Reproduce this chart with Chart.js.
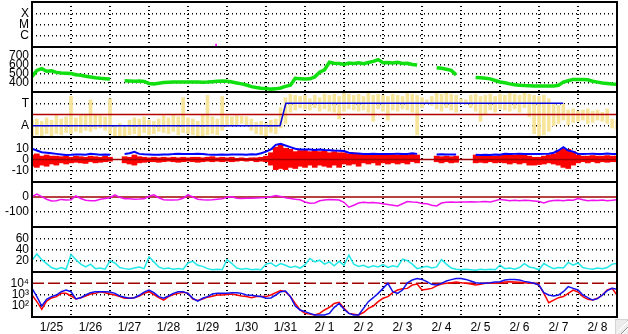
<!DOCTYPE html>
<html>
<head>
<meta charset="utf-8">
<title>trend</title>
<script src="https://cdn.jsdelivr.net/npm/chart.js@4.4.1/dist/chart.umd.min.js"></script>
<style>
  html, body { margin: 0; padding: 0; background: #fff; }
  #wrap { position: relative; width: 628px; height: 334px; }
  canvas { display: block; }
  .grip {
    position: absolute; right: 0; bottom: 0; width: 12px; height: 14px;
    background: #ececec; border-left: 1px solid #d4d4d4; border-top: 1px solid #d4d4d4;
  }
  .grip::after {
    content: ''; position: absolute; inset: 0;
    background: repeating-linear-gradient(135deg, transparent 0 3px, #8c8c8c 3px 4px, #fff 4px 5px);
    clip-path: polygon(100% 0, 100% 100%, 0 100%);
  }
</style>
</head>
<body>
<div id="wrap">
  <canvas id="trend" width="628" height="334"></canvas>
  <div class="grip"></div>
</div>
<script>
/* 15 days from 1/25 00:00, one sample every 3 h (x in days) */
const STEP = 1 / 8;
const dayLabels = ['1/25', '1/26', '1/27', '1/28', '1/29', '1/30', '1/31',
  '2/ 1', '2/ 2', '2/ 3', '2/ 4', '2/ 5', '2/ 6', '2/ 7', '2/ 8'];

const catLabels  = { 1: 'C', 2: 'M', 3: 'X' };
const modeLabels = { 1: 'A', 3: 'T' };
const logLabels  = { 100: '10\u00b2', 1000: '10\u00b3', 10000: '10\u2074' };

// panel 1 : single event mark
const eventTimes   = [4.72];
const eventHeights = [0.25];

// panel 2 : green
const flowValues = [
  470, 540, 560, 530, 535, 518, 512, 508, 505, 492,
  485, 475, 466, 458, 452, 448, 445, null, null, 425,
  423, 420, 421, 418, 395, 390, 397, 405, 408, 410,
  412, 411, 410, 412, 410, 408, 410, 415, 420, 422,
  419, 410, 400, 390, 378, 360, 350, 342, 338, 332,
  335, 345, 362, 375, 452, 448, 445, 447, 468, 520,
  545, 630, 620, 618, 605, 622, 618, 625, 615, 628,
  640, 660, 625, 628, 622, 630, 618, 620, 605, 600,
  null, null, null, 570, 563, 552, 540, 490, null, null,
  null, 462, 458, 452, 446, 428, 412, 403, 390, 380,
  374, 371, 370, 368, 368, 367, 366, 368, 375, 410,
  425, 440, 440, 438, 436, 420, 410, 400, 394, 388,
  386
];

// panel 3 : mode step (A = 1, T = 3), limit and yellow activity band
const modeTimes  = [0, 6.36, 6.51, 13.62];
const modeValues = [1, 1, 3, 3];
const modeLimit  = 2;
const activityLow = [
  0.1, 0.2, 0.1, 0.3, 0.0, 0.3, 0.2, 0.4, 0.3, 0.5,
  0.4, 0.6, 0.5, 0.7, 0.8, 0.6, 0.3, 0.0, 0.1, 0.0,
  0.2, 0.3, 0.1, 0.4, 0.2, 0.3, 0.5, 0.4, 0.3, 0.5,
  0.2, 0.4, 0.3, 0.2, 0.0, 0.1, 0.2, 0.3, 0.2, 0.6,
  0.9, 1.0, 1.1, 1.2, 1.0, 0.6, 0.3, 0.2, 0.1, 0.4,
  0.3, 0.8, 1.2, 2.2, 2.4, 2.6, 2.5, 2.4, 2.6, 2.3,
  2.5, 2.3, 2.2, 1.6, 2.3, 2.5, 2.4, 2.3, 2.4, 2.2,
  1.4, 2.5, 2.3, 1.5, 2.4, 2.3, 2.5, 2.4, 2.2, 0.2,
  2.6, 3.0, 2.8, 2.5, 2.3, 2.6, 2.4, 2.2, 3.0, 2.9,
  2.6, 2.3, 1.4, 2.0, 2.4, 2.2, 2.5, 2.4, 2.3, 2.5,
  2.2, 2.6, 1.8, 0.3, 0.1, 0.2, 0.5, 1.0, 1.2, 1.5,
  1.1, 1.3, 1.4, 1.5, 1.2, 1.3, 1.5, 1.4, 1.2, 0.8,
  0.7
];
const activityHigh = [
  1.5, 1.6, 1.4, 1.7, 1.5, 2.0, 1.6, 1.8, 3.6, 1.7,
  1.9, 2.0, 3.3, 2.0, 1.9, 1.8, 3.4, 1.0, 1.2, 0.9,
  1.5, 1.7, 1.6, 1.8, 1.5, 1.4, 1.6, 1.9, 1.7, 2.0,
  1.8, 3.5, 1.7, 1.6, 1.4, 2.0, 3.7, 1.8, 1.6, 3.6,
  1.9, 1.8, 1.9, 1.85, 1.8, 1.6, 1.3, 1.4, 1.2, 1.5,
  1.6, 2.6, 3.5, 3.8, 3.7, 3.6, 3.7, 3.4, 3.7, 3.5,
  3.8, 3.7, 3.8, 3.6, 3.9, 3.8, 3.7, 3.8, 3.6, 3.9,
  3.7, 3.8, 3.7, 3.6, 3.8, 3.7, 3.6, 3.9, 3.8, 3.7,
  3.5, 3.3, 3.6, 3.9, 3.8, 3.9, 3.8, 3.7, 3.4, 3.3,
  3.7, 3.8, 3.6, 3.7, 3.8, 3.6, 3.8, 3.7, 3.9, 3.8,
  3.7, 3.9, 3.8, 3.7, 3.6, 3.7, 3.4, 3.0, 2.8, 2.9,
  2.4, 2.5, 2.3, 2.4, 2.5, 2.3, 2.4, 2.2, 2.5, 1.6,
  1.5
];

// panel 4 : blue upper trace and red spread
const diffUpper = [
  9.5, 8, 6.5, 6, 5.5, 5, 4.5, 4, 4.2, 4.5,
  4.5, 4.3, 5, 4.6, 4.2, 4.5, 4.3, null, null, 4.8,
  5.5, 6.8, 5, 4.6, 4.5, 4.3, 4.2, 4.4, 4.5, 4.8,
  5.2, 5, 5, 4.8, 5.1, 4.8, 4.5, 4.3, 4.2, 4.5,
  4.3, 4.5, 4.4, 4.5, 4.3, 4.6, 4.5, 5.5, 7, 9,
  13, 14, 12.5, 11, 9.5, 9, 9, 8.8, 8.5, 8.8,
  8.5, 8.3, 8, 7.8, 7.5, 6, 5.5, 5.3, 5, 5,
  5.2, 5, 5, 4.8, 5, 5.2, 5, 5, 5.5, 5,
  null, null, null, 4.5, 4.6, 4.5, 4.4, 4.5, null, null,
  null, 4.2, 4, 4.2, 4, 4.5, 4.3, 5, 4.8, 5,
  5.2, 4.9, 5, 5, 4.8, 5, 5.2, 6, 8, 11,
  8, 7, 5, 4.8, 5, 5.2, 5, 5, 5.3, 5,
  5
];
const diffLow = [
  -6, -7, -5, -6, -4, -5, -3, -4, -3, -2.5,
  -3, -3.5, -2, -3, -2.5, -2, -1.5, null, null, -3,
  -4, -5, -3, -2.5, -2, -2, -2.5, -2, -1.5, -2,
  -2.5, -2, -1.5, -2, -2.5, -2, -1.5, -2, -1.5, -2,
  -1.5, -2, -1.5, -1, -1.5, -1, -2, -1.5, -2, -5,
  -9, -8, -9, -7, -8, -6, -7, -5, -7, -5,
  -6, -7, -5, -7, -4, -5, -4, -6, -3, -4,
  -3, -5, -3, -4, -3, -4, -3, -4, -2, -3,
  null, null, null, -2, -3, -2, -3, -2.5, null, null,
  null, -3, -2.5, -3, -2, -3, -2.5, -3, -4, -3,
  -4, -3, -5, -5, -4.5, -4, -3, -4, -5, -7,
  -8, -5, -3, -2, -3, -2, -3, -2, -2.5, -2,
  -2
];
const diffHigh = [
  4, 5, 3, 4, 3, 3, 2.5, 3, 2, 3,
  2.5, 2, 3, 2.5, 2, 3, 2, null, null, 2.5,
  2, 4, 2.5, 2, 1.5, 2, 1.5, 2, 1.5, 2,
  1.5, 2, 1.5, 2, 2, 1.5, 2, 2.5, 1.5, 2,
  1.5, 2, 1, 1.5, 1, 1.5, 1.5, 2, 3, 6,
  11, 13, 10, 9, 7, 8, 8, 7, 8, 7,
  8, 6, 7, 6, 6, 5, 6, 5, 4, 5,
  4, 5, 4, 5, 4.5, 4, 5, 4, 5, 4,
  null, null, null, 3, 2.5, 3, 2.5, 3, null, null,
  null, 4, 3, 3.5, 3, 3, 3.5, 4, 4.5, 4,
  5, 4, 3, 2, 2, 3, 4, 5, 8, 10,
  9, 7, 4, 3, 3, 3.5, 3, 3, 3.5, 3,
  3
];
const diffZero = 0;

// panel 5 : magenta
const offsetValues = [
  2, 20, 2, -15, -27, -25, -16, -20, -18, 8,
  -10, -22, -25, -25, -15, -10, -5, 14, -2, -12,
  -12, -15, -14, -12, 5, 15, -5, -18, -20, -20,
  -18, -8, 14, 0, -15, -18, -20, -18, -15, -12,
  -2, 2, -8, -10, -8, -8, -6, -5, -3, 2,
  10, 4, -5, -10, -15, -18, -33, -42, -40, -25,
  -20, -16, -18, -20, -35, -68, -55, -40, -35, -38,
  -36, -40, -45, -50, -55, -60, -45, -30, -33, -35,
  -44, -45, -55, -60, -40, -35, -33, -35, -33, -33,
  -32, -33, -32, -30, -33, -25, -16, -20, -25, -22,
  -25, -22, -24, -27, -30, -40, -28, -24, -22, -25,
  -20, -22, -10, -18, -25, -22, -24, -20, -25, -22,
  -18
];
const offsetZero = 0;

// panel 6 : cyan
const rateValues = [
  21, 32, 22, 15, 8, 5, 8, 5, 31, 22,
  14, 9, 14, 6, 7, 5, 20, 16, 8, 6,
  5, 7, 9, 6, 27, 18, 9, 6, 7, 5,
  6, 5, 16, 19, 12, 10, 6, 4, 5, 4,
  22, 15, 7, 5, 6, 4, 5, 4, 14, 16,
  10, 15, 12, 8, 10, 7, 13, 24, 18, 21,
  14, 18, 11, 19, 12, 30, 14, 10, 12, 8,
  11, 9, 13, 8, 11, 9, 23, 20, 14, 6,
  8, 10, 7, 9, 22, 14, 7, 5, 4, 5,
  4, 3, 5, 4, 5, 4, 12, 6, 7, 5,
  8, 15, 9, 7, 4, 15, 10, 6, 8, 7,
  17, 12, 16, 8, 6, 5, 7, 6, 8, 14,
  15
];

// panel 7 : log counts
const countRed = [
  900, 230, 48, 260, 490, 650, 1260, 1260, 740, 400,
  520, 740, 1100, 1260, 1780, 1450, 1100, 900, 650, 460,
  460, 520, 740, 1260, 1780, 1000, 520, 320, 650, 1000,
  1260, 1550, 1260, 400, 290, 400, 580, 700, 900, 900,
  1000, 1100, 900, 740, 650, 520, 650, 650, 650, 900,
  1450, 2200, 1780, 650, 160, 42, 21, 18, 15, 21,
  42, 72, 160, 200, 59, 21, 18, 15, 25, 59,
  95, 230, 460, 650, 1450, 2500, 3300, 3500, 6900, 8500,
  2500, 2900, 3500, 5800, 8500, 9800, 11000, 13000, 11000, 9800,
  8500, 6900, 8000, 9800, 9800, 9800, 11000, 13000, 13800, 13000,
  12000, 11000, 9800, 9800, 6900, 1260, 185, 320, 520, 650,
  1260, 2500, 1650, 650, 370, 320, 460, 900, 2500, 3500,
  900
];
const countBlue = [
  3500, 650, 95, 370, 650, 900, 1780, 2500, 1780, 400,
  520, 900, 1450, 1780, 1780, 1780, 1650, 1260, 740, 580,
  460, 520, 850, 1650, 2500, 1450, 650, 460, 740, 1260,
  1780, 1780, 1260, 460, 260, 460, 650, 1100, 1260, 1260,
  1300, 1450, 1450, 1260, 900, 850, 740, 650, 460, 490,
  900, 1780, 2000, 650, 95, 42, 30, 21, 15, 15,
  15, 21, 72, 160, 48, 21, 15, 15, 59, 230,
  520, 1260, 3500, 9800, 1780, 1260, 2500, 11000, 19500, 26000,
  22000, 13800, 8000, 6900, 9800, 16000, 21000, 26000, 27000, 22000,
  16000, 11000, 9800, 9800, 11000, 13000, 13800, 19500, 22000, 22000,
  19500, 14700, 12000, 9800, 6900, 1450, 900, 740, 900, 1780,
  5000, 3500, 2500, 900, 520, 320, 430, 900, 2200, 3500,
  2900
];
const countLimit = 10000;

/* ---------- helpers ---------- */
const FONT = { family: "'Liberation Sans', Arial, sans-serif", size: 12 };
const END = dayLabels.length;
const PANELS = ['yCat', 'yGreen', 'yMode', 'yDiff', 'yOffset', 'yCyan', 'yLog'];
const DOTS = [1, 3];

const series = values => values.map((v, i) => ({ x: i * STEP, y: v }));
const ranges = (lo, hi) => lo
  .map((v, i) => ({ x: i * STEP, y: v === null ? null : [v, hi[i]] }))
  .filter(p => p.y !== null);
const level = v => [{ x: 0, y: v }, { x: END, y: v }];

const line = (axis, data, color, width, order, extra) => Object.assign({
  type: 'line', yAxisID: axis, data, borderColor: color, borderWidth: width,
  pointRadius: 0, tension: 0, spanGaps: false, order
}, extra);

const bars = (axis, data, color, thickness, order) => ({
  type: 'bar', yAxisID: axis, data, backgroundColor: color, borderWidth: 0,
  barThickness: thickness, grouped: false, order
});

function panel(extra, tickValues, labels, hideAt) {
  return Object.assign({
    position: 'left', stack: 'panels', stackWeight: 1, offset: false,
    border: { display: false, dash: DOTS },
    grid: {
      drawTicks: false, lineWidth: 1.5,
      color: c => (c.tick && c.tick.value === hideAt) ? 'rgba(0,0,0,0)' : '#000'
    },
    ticks: {
      padding: 3, color: '#000', font: FONT, autoSkip: false,
      callback: v => labels ? labels[v] : v
    },
    afterBuildTicks: s => { s.ticks = tickValues.map(v => ({ value: v })); },
    afterFit: s => { s.width = 32; s.paddingTop = 0; s.paddingBottom = 0; }
  }, extra);
}

// black frame and panel separators
const framePlugin = {
  id: 'frame',
  afterDatasetsDraw(chart) {
    const { ctx, chartArea: a } = chart;
    ctx.save();
    ctx.strokeStyle = '#000';
    ctx.lineWidth = 2;
    ctx.beginPath();
    PANELS.forEach(id => {
      const top = Math.round(chart.scales[id].top);
      ctx.moveTo(a.left, top);
      ctx.lineTo(a.right, top);
    });
    ctx.moveTo(a.left, a.bottom);  ctx.lineTo(a.right, a.bottom);
    ctx.moveTo(a.left, a.top - 1); ctx.lineTo(a.left, a.bottom + 1);
    ctx.moveTo(a.right, a.top - 1); ctx.lineTo(a.right, a.bottom + 1);
    ctx.stroke();
    ctx.restore();
  }
};

/* ---------- chart ---------- */
new Chart(document.getElementById('trend'), {
  type: 'line',
  data: {
    datasets: [
      bars('yCat', eventTimes.map((t, i) => ({ x: t, y: [0, eventHeights[i]] })), '#ff00ff', 1, 1),

      line('yGreen', series(flowValues), '#10e010', 3.5, 1),

      line('yMode', modeTimes.map((t, i) => ({ x: t, y: modeValues[i] })), '#0000e0', 1.5, 1),
      line('yMode', level(modeLimit), '#b40000', 1.5, 2),
      bars('yMode', ranges(activityLow, activityHigh), '#f8e59c', 3, 9),

      line('yDiff', series(diffUpper), '#0000ff', 2, 1),
      line('yDiff', level(diffZero), '#a00000', 1.5, 4),
      bars('yDiff', ranges(diffLow, diffHigh), '#ff0000', 5, 5),

      line('yOffset', series(offsetValues), '#f010f0', 1.5, 1),
      line('yOffset', level(offsetZero), '#a00000', 1.5, 8),

      line('yCyan', series(rateValues), '#20e8e8', 1.5, 1),

      line('yLog', series(countBlue), '#1010f0', 1.5, 1),
      line('yLog', series(countRed), '#ff0000', 1.5, 2),
      line('yLog', level(countLimit), '#a00000', 1.5, 8, { borderDash: [12, 4] })
    ]
  },
  options: {
    responsive: false,
    animation: false,
    layout: { padding: { top: 2, right: 11, left: 0, bottom: 0 } },
    plugins: { legend: { display: false }, tooltip: { enabled: false } },
    scales: {
      x: {
        type: 'linear', min: 0, max: END, offset: false,
        border: { display: false, dash: DOTS },
        grid: { drawTicks: false, lineWidth: 2, color: '#000', offset: false },
        ticks: {
          padding: 3, color: '#000', font: FONT, autoSkip: false, maxRotation: 0,
          labelOffset: 19.5, callback: v => dayLabels[v] ?? ''
        },
        afterBuildTicks: s => { s.ticks = dayLabels.map((_, d) => ({ value: d })); },
        afterFit: s => { s.height = 17; s.paddingLeft = 0; s.paddingRight = 0; }
      },
      // stacked panels, listed bottom first
      yLog:    panel({ type: 'logarithmic', min: 10, max: 100000 }, [100, 1000, 10000], logLabels, 10000),
      yCyan:   panel({ type: 'linear', min: 0, max: 80 }, [20, 40, 60]),
      yOffset: panel({ type: 'linear', min: -200, max: 100 }, [-100, 0], null, 0),
      yDiff:   panel({ type: 'linear', min: -20, max: 20 }, [-10, 0, 10], null, 0),
      yMode:   panel({ type: 'linear', min: 0, max: 4 }, [1, 3], modeLabels),
      yGreen:  panel({ type: 'linear', min: 300, max: 800 }, [400, 500, 600, 700]),
      yCat:    panel({ type: 'linear', min: 0, max: 4 }, [1, 2, 3], catLabels)
    }
  },
  plugins: [framePlugin]
});
</script>
</body>
</html>
